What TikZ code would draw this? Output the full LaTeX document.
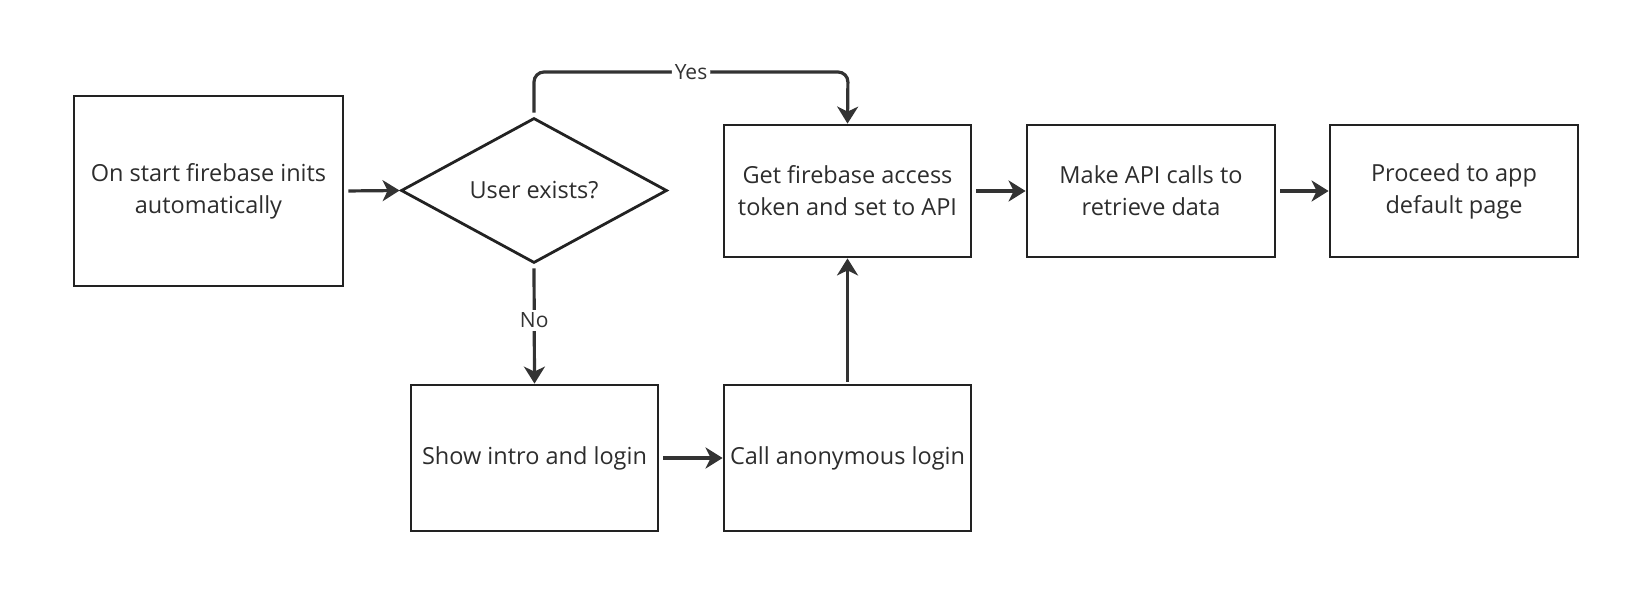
\documentclass[tikz,border=0pt]{standalone}
\usepackage{fontspec}
\setmainfont{Open Sans}
\usetikzlibrary{shapes.geometric,arrows.meta}
\definecolor{ink}{HTML}{222222}
\definecolor{arr}{HTML}{333333}
\begin{document}
\begin{tikzpicture}[x=1pt,y=-1pt,
  box/.style={draw=ink,line width=2.8pt,fill=white,inner sep=0pt,align=center,
     font=\fontsize{23.5}{32}\selectfont,text=ink!95},
  dia/.style={draw=ink,line width=2.8pt,diamond,inner sep=0pt,
     font=\fontsize{23.5}{32}\selectfont,text=ink!95},
  conn/.style={draw=arr,line width=3.2pt,-{Stealth[length=17pt,width=21pt,inset=5pt]}},
  lbl/.style={fill=white,inner sep=3pt,font=\fontsize{21}{24}\selectfont,text=arr}]
\useasboundingbox (0,0) rectangle (1652,605);
\node[box,minimum width=269pt,minimum height=190pt] (start) at (208.5,191) {On start firebase inits\\automatically};
\node[dia,minimum width=266pt,minimum height=145pt,aspect=1.83] (user) at (534,190.5) {User exists?};
\node[box,minimum width=247pt,minimum height=132pt] (token) at (847.5,191) {Get firebase access\\token and set to API};
\node[box,minimum width=248pt,minimum height=132pt] (api) at (1151,191) {Make API calls to\\retrieve data};
\node[box,minimum width=248pt,minimum height=132pt] (proceed) at (1454,191) {Proceed to app\\default page};
\node[box,minimum width=247pt,minimum height=146pt] (intro) at (534.5,458) {Show intro and login};
\node[box,minimum width=247pt,minimum height=146pt] (anon) at (847.5,458) {Call anonymous login};
\coordinate (yl) at (534,72);
\coordinate (yr) at (848,72);
\draw[conn,shorten <=4pt] (start.east) -- (user.west);
\draw[conn,rounded corners=10pt,shorten <=4pt] (user.north) -- (yl) -- node[lbl,pos=0.5]{Yes} (yr) -- (token.north);
\draw[conn,shorten <=4pt] (user.south) -- node[lbl,pos=0.47]{No} (intro.north);
\draw[conn,shorten <=4pt] (intro.east) -- (anon.west);
\draw[conn,shorten <=2pt] (anon.north) -- (token.south);
\draw[conn,shorten <=4pt] (token.east) -- (api.west);
\draw[conn,shorten <=4pt] (api.east) -- (proceed.west);
\end{tikzpicture}
\end{document}
